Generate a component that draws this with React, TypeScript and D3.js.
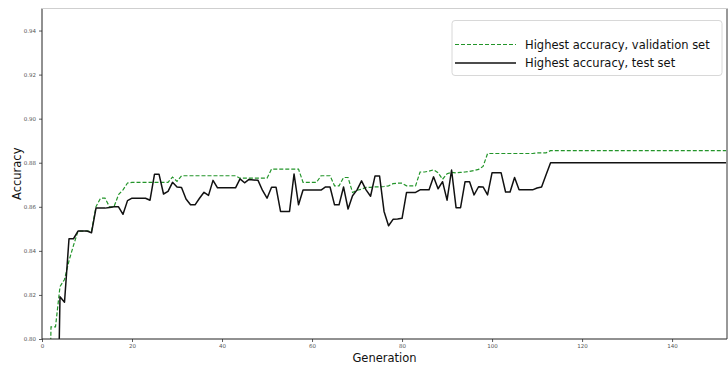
import React, { useEffect, useRef } from 'react';
import * as d3 from 'd3';

// highest accuracy per generation (index = generation)
const validationAcc: number[] = [
  0.600, 0.700, 0.8055, 0.8055, 0.8238, 0.8270, 0.8355, 0.8425, 0.8490, 0.8490,
  0.8490, 0.8490, 0.8601, 0.8639, 0.8639, 0.8600, 0.8600, 0.8655, 0.8677, 0.8708,
  0.8711, 0.8711, 0.8711, 0.8711, 0.8711, 0.8711, 0.8711, 0.8711, 0.8711, 0.8735,
  0.8715, 0.8741, 0.8741, 0.8741, 0.8741, 0.8741, 0.8741, 0.8741, 0.8741, 0.8741,
  0.8741, 0.8741, 0.8741, 0.8741, 0.8730, 0.8730, 0.8730, 0.8730, 0.8730, 0.8730,
  0.8730, 0.8771, 0.8771, 0.8771, 0.8771, 0.8771, 0.8771, 0.8771, 0.8711, 0.8711,
  0.8711, 0.8711, 0.8741, 0.8741, 0.8741, 0.8695, 0.8695, 0.8733, 0.8733, 0.8665,
  0.8675, 0.8680, 0.8688, 0.8688, 0.8690, 0.8690, 0.8692, 0.8695, 0.8705, 0.8707,
  0.8707, 0.8695, 0.8695, 0.8695, 0.8758, 0.8758, 0.8762, 0.8768, 0.8755, 0.8725,
  0.8750, 0.8756, 0.8754, 0.8756, 0.8758, 0.8761, 0.8765, 0.8770, 0.8783, 0.8842,
  0.8842, 0.8842, 0.8842, 0.8842, 0.8842, 0.8842, 0.8842, 0.8842, 0.8842, 0.8842,
  0.8845, 0.8845, 0.8845, 0.8855, 0.8855, 0.8855, 0.8855, 0.8855, 0.8855, 0.8855,
  0.8855, 0.8855, 0.8855, 0.8855, 0.8855, 0.8855, 0.8855, 0.8855, 0.8855, 0.8855,
  0.8855, 0.8855, 0.8855, 0.8855, 0.8855, 0.8855, 0.8855, 0.8855, 0.8855, 0.8855,
  0.8855, 0.8855, 0.8855, 0.8855, 0.8855, 0.8855, 0.8855, 0.8855, 0.8855, 0.8855,
  0.8855, 0.8855, 0.8855,
];

const testAcc: number[] = [
  0.500, 0.550, 0.600, 0.700, 0.8192, 0.8167, 0.8455, 0.8455, 0.8490, 0.8490,
  0.8490, 0.8482, 0.8594, 0.8594, 0.8594, 0.8597, 0.8600, 0.8600, 0.8566, 0.8628,
  0.8639, 0.8639, 0.8639, 0.8639, 0.8630, 0.8748, 0.8748, 0.8658, 0.8670, 0.8711,
  0.8690, 0.8688, 0.8635, 0.8609, 0.8609, 0.8639, 0.8666, 0.8652, 0.8720, 0.8686,
  0.8686, 0.8686, 0.8686, 0.8686, 0.8727, 0.8709, 0.8724, 0.8722, 0.8720, 0.8674,
  0.8639, 0.8689, 0.8689, 0.8579, 0.8579, 0.8579, 0.8749, 0.8609, 0.8676, 0.8676,
  0.8676, 0.8676, 0.8676, 0.8690, 0.8690, 0.8609, 0.8609, 0.8690, 0.8590, 0.8650,
  0.8677, 0.8718, 0.8677, 0.8648, 0.8740, 0.8740, 0.8579, 0.8514, 0.8543, 0.8545,
  0.8548, 0.8665, 0.8665, 0.8665, 0.8677, 0.8677, 0.8677, 0.8736, 0.8682, 0.8714,
  0.8630, 0.8767, 0.8596, 0.8596, 0.8714, 0.8714, 0.8654, 0.8691, 0.8690, 0.8654,
  0.8755, 0.8755, 0.8755, 0.8667, 0.8667, 0.8733, 0.8677, 0.8677, 0.8677, 0.8677,
  0.8685, 0.8690, 0.8745, 0.8800, 0.8800, 0.8800, 0.8800, 0.8800, 0.8800, 0.8800,
  0.8800, 0.8800, 0.8800, 0.8800, 0.8800, 0.8800, 0.8800, 0.8800, 0.8800, 0.8800,
  0.8800, 0.8800, 0.8800, 0.8800, 0.8800, 0.8800, 0.8800, 0.8800, 0.8800, 0.8800,
  0.8800, 0.8800, 0.8800, 0.8800, 0.8800, 0.8800, 0.8800, 0.8800, 0.8800, 0.8800,
  0.8800, 0.8800, 0.8800,
];

const xTicks = [0, 20, 40, 60, 80, 100, 120, 140];
const yTicks = [0.80, 0.82, 0.84, 0.86, 0.88, 0.90, 0.92, 0.94];
const seriesNames = ['Highest accuracy, validation set', 'Highest accuracy, test set'];

const FONT = '"DejaVu Sans", sans-serif';

function App() {
  const svgRef = useRef<SVGSVGElement>(null);

  useEffect(() => {
    const width = 728, height = 371;
    const left = 42, right = 727, top = 8.5, bottom = 339;

    const svg = d3.select(svgRef.current);
    svg.selectAll('*').remove();
    svg.attr('width', width).attr('height', height);

    const x = d3.scaleLinear().domain([0, 152.2]).range([left, right]);
    const y = d3.scaleLinear().domain([0.80, 0.95]).range([bottom, top]);

    // clip de las lineas al area del grafico
    svg.append('clipPath').attr('id', 'plot-clip')
      .append('rect').attr('x', left).attr('y', top)
      .attr('width', right - left).attr('height', bottom - top);

    // ejes
    const yAxis = svg.append('g').attr('transform', `translate(${left},0)`)
      .call(d3.axisLeft(y).tickValues(yTicks).tickFormat(d3.format('.2f')).tickSize(3).tickPadding(3));
    const xAxis = svg.append('g').attr('transform', `translate(0,${bottom})`)
      .call(d3.axisBottom(x).tickValues(xTicks).tickFormat(d3.format('d')).tickSize(3).tickPadding(2));
    [yAxis, xAxis].forEach(g => {
      g.select('.domain').remove();
      g.selectAll('line').attr('stroke', '#333').attr('stroke-width', 0.8);
      g.selectAll('text').attr('font-family', FONT).attr('font-size', 5.5).attr('fill', '#555');
    });

    const line = d3.line<number>()
      .x((_, i) => x(i))
      .y(d => y(d));

    const plot = svg.append('g').attr('clip-path', 'url(#plot-clip)');

    plot.append('path').datum(validationAcc)
      .attr('d', line).attr('fill', 'none')
      .attr('stroke', '#23952a').attr('stroke-width', 1.2)
      .attr('stroke-dasharray', '4,2');

    plot.append('path').datum(testAcc)
      .attr('d', line).attr('fill', 'none')
      .attr('stroke', '#111').attr('stroke-width', 1.5)
      .attr('stroke-linejoin', 'round');

    // marco: izquierda, abajo y derecha oscuros, arriba claro
    const spine = (x1: number, y1: number, x2: number, y2: number, c: string) =>
      svg.append('line').attr('x1', x1).attr('y1', y1).attr('x2', x2).attr('y2', y2)
        .attr('stroke', c).attr('stroke-width', 1);
    spine(left, top, left, bottom, '#222');
    spine(left, bottom, right, bottom, '#222');
    spine(right, top, right, bottom, '#333');
    spine(left, top, right, top, '#cfcfcf');

    // etiquetas de ejes
    svg.append('text').attr('x', (left + right) / 2).attr('y', 362)
      .attr('text-anchor', 'middle').attr('font-family', FONT).attr('font-size', 11.5)
      .attr('fill', '#111').text('Generation');
    svg.append('text').attr('transform', `translate(21,${(top + bottom) / 2}) rotate(-90)`)
      .attr('text-anchor', 'middle').attr('font-family', FONT).attr('font-size', 11.5)
      .attr('fill', '#111').text('Accuracy');

    // leyenda
    const legend = svg.append('g');
    legend.append('rect').attr('x', 452).attr('y', 20.5).attr('width', 270).attr('height', 55)
      .attr('rx', 3).attr('fill', 'white').attr('fill-opacity', 0.8)
      .attr('stroke', '#d8d8d8').attr('stroke-width', 1);
    const styles = [
      { color: '#23952a', dash: '4,2', w: 1.2 },
      { color: '#111', dash: null, w: 1.5 },
    ];
    seriesNames.forEach((name, i) => {
      const ly = 44.5 + i * 18.5;
      legend.append('line').attr('x1', 455).attr('x2', 516).attr('y1', ly).attr('y2', ly)
        .attr('stroke', styles[i].color).attr('stroke-width', styles[i].w)
        .attr('stroke-dasharray', styles[i].dash);
      legend.append('text').attr('x', 525).attr('y', ly + 4)
        .attr('font-family', FONT).attr('font-size', 11.5).attr('fill', '#111').text(name);
    });
  }, []);

  return (
    <svg ref={svgRef} style={{ position: 'absolute', left: 0, top: 0, background: 'white' }} />
  );
}

export default App;
